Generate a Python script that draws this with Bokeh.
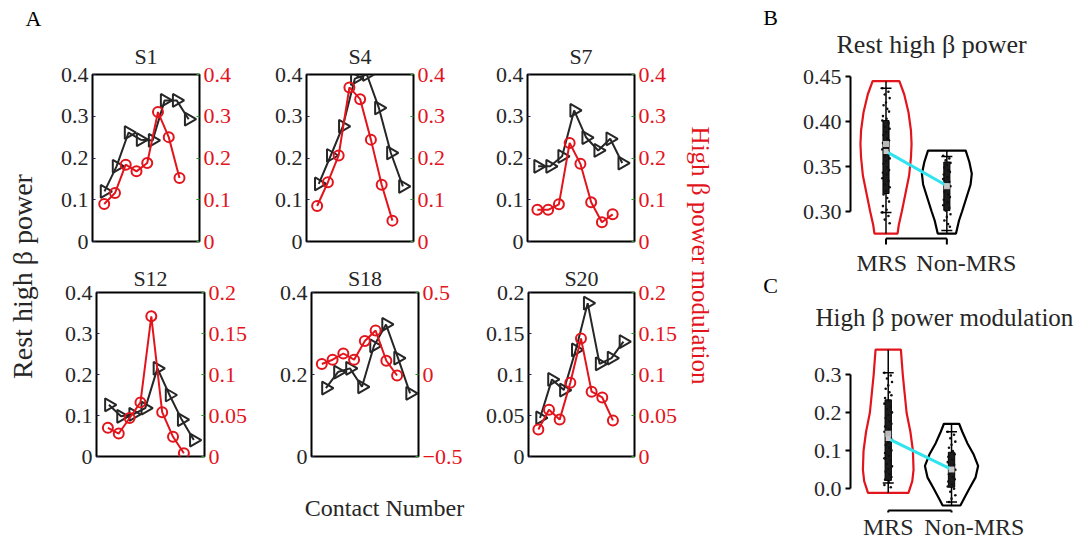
import numpy as np
from bokeh.plotting import figure
from bokeh.layouts import row, column
from bokeh.models import Range1d, LinearAxis, FixedTicker, CustomJSTickFormatter
from bokeh.embed import file_html
from bokeh.resources import INLINE
from bokeh.core.properties import value

FONT = "Liberation Serif"
RED = "#e2141c"
BLK = "#262626"
GREEN = "#1f9a1f"
CYAN = "#2fe3ef"

# ---------------- data: panel A ----------------
contacts = [1, 2, 3, 4, 5, 6, 7, 8]
subjects = ["S1", "S4", "S7", "S12", "S18", "S20"]

rest_S1 = [0.120, 0.180, 0.261, 0.244, 0.242, 0.338, 0.338, 0.293]
mod_S1 = [0.090, 0.116, 0.184, 0.168, 0.188, 0.310, 0.250, 0.152]
rest_S4 = [0.138, 0.206, 0.276, 0.390, 0.400, 0.320, 0.212, 0.132]
mod_S4 = [0.085, 0.142, 0.206, 0.369, 0.341, 0.244, 0.136, 0.050]
rest_S7 = [0.180, 0.180, 0.204, 0.314, 0.249, 0.218, 0.246, 0.188]
mod_S7 = [0.076, 0.076, 0.089, 0.236, 0.186, 0.094, 0.046, 0.065]
rest_S12 = [0.126, 0.098, 0.103, 0.118, 0.215, 0.150, 0.090, 0.040]
mod_S12 = [0.035, 0.028, 0.047, 0.066, 0.171, 0.054, 0.024, 0.004]
rest_S18 = [0.167, 0.206, 0.215, 0.170, 0.270, 0.322, 0.240, 0.154]
mod_S18 = [0.064, 0.090, 0.128, 0.090, 0.204, 0.268, 0.084, -0.006]
rest_S20 = [0.047, 0.094, 0.081, 0.130, 0.187, 0.113, 0.120, 0.140]
mod_S20 = [0.033, 0.057, 0.045, 0.090, 0.144, 0.079, 0.072, 0.044]

rest = {"S1": rest_S1, "S4": rest_S4, "S7": rest_S7, "S12": rest_S12, "S18": rest_S18, "S20": rest_S20}
mod = {"S1": mod_S1, "S4": mod_S4, "S7": mod_S7, "S12": mod_S12, "S18": mod_S18, "S20": mod_S20}

left_range = {"S1": (0, 0.4), "S4": (0, 0.4), "S7": (0, 0.4), "S12": (0, 0.4), "S18": (0, 0.4), "S20": (0, 0.2)}
right_range = {"S1": (0, 0.4), "S4": (0, 0.4), "S7": (0, 0.4), "S12": (0, 0.2), "S18": (-0.5, 0.5), "S20": (0, 0.2)}
ticks_04 = [0, 0.1, 0.2, 0.3, 0.4]
ticks_02 = [0, 0.05, 0.1, 0.15, 0.2]
left_ticks = {"S1": ticks_04, "S4": ticks_04, "S7": ticks_04, "S12": ticks_04, "S18": [0, 0.2, 0.4], "S20": ticks_02}
right_ticks = {"S1": ticks_04, "S4": ticks_04, "S7": ticks_04, "S12": ticks_02, "S18": [-0.5, 0, 0.5], "S20": ticks_02}

left_title = "Rest high β power"
right_title = "High β power modulation"
x_title = "Contact Number"
panel_letters = ["A", "B", "C"]

# ---------------- data: panels B, C ----------------
groups = ["MRS", "Non-MRS"]
titleB = "Rest high β power"
titleC = "High β power modulation"
ticksB = [0.30, 0.35, 0.40, 0.45]
ticksC = [0.0, 0.1, 0.2, 0.3]

# violin outlines: value levels and half widths (density)
B_mrs_lev = [0.2755, 0.285, 0.300, 0.320, 0.340, 0.360, 0.375, 0.390, 0.410, 0.430, 0.4448]
B_mrs_hw = [0.19, 0.21, 0.26, 0.32, 0.38, 0.41, 0.42, 0.41, 0.37, 0.30, 0.22]
B_non_lev = [0.2755, 0.290, 0.300, 0.315, 0.330, 0.342, 0.355, 0.3676]
B_non_hw = [0.15, 0.20, 0.25, 0.32, 0.39, 0.41, 0.37, 0.31]
C_mrs_lev = [-0.011, 0.020, 0.050, 0.100, 0.150, 0.200, 0.250, 0.300, 0.366]
C_mrs_hw = [0.32, 0.38, 0.40, 0.39, 0.35, 0.29, 0.26, 0.23, 0.20]
C_non_lev = [-0.044, -0.025, 0.000, 0.030, 0.060, 0.090, 0.120, 0.150, 0.171]
C_non_hw = [0.14, 0.20, 0.28, 0.38, 0.42, 0.35, 0.25, 0.17, 0.12]

# box (q1, q3), mean, median, whisker caps
B_mrs_box = (0.320, 0.401); B_non_box = (0.301, 0.355)
C_mrs_box = (0.022, 0.234); C_non_box = (0.004, 0.096)
B_means = [0.3668, 0.3286]
C_means = [0.132, 0.051]
B_medians = [0.375, 0.328]
C_medians = [0.145, 0.051]
B_caps = [[0.437, 0.299], [0.361, 0.279]]
C_caps = [[0.305, 0.015], [0.150, -0.035]]

B_mrs_pts = [0.437, 0.433, 0.430, 0.426, 0.421, 0.418, 0.414, 0.411, 0.406, 0.403, 0.401, 0.398,
             0.394, 0.392, 0.388, 0.385, 0.381, 0.379, 0.376, 0.372, 0.369, 0.366, 0.362, 0.359,
             0.356, 0.353, 0.349, 0.346, 0.343, 0.341, 0.337, 0.334, 0.330, 0.327, 0.323, 0.319,
             0.315, 0.311, 0.306, 0.302, 0.299, 0.295, 0.291, 0.287]
B_non_pts = [0.362, 0.359, 0.357, 0.354, 0.352, 0.349, 0.346, 0.344, 0.341, 0.338, 0.336, 0.333,
             0.331, 0.328, 0.325, 0.322, 0.319, 0.316, 0.313, 0.310, 0.307, 0.304, 0.301, 0.297,
             0.294, 0.290, 0.286, 0.283]
C_mrs_pts = [0.305, 0.298, 0.290, 0.281, 0.272, 0.263, 0.254, 0.246, 0.239, 0.231, 0.224, 0.216,
             0.209, 0.201, 0.194, 0.186, 0.178, 0.171, 0.164, 0.157, 0.150, 0.143, 0.136, 0.129,
             0.122, 0.115, 0.108, 0.101, 0.094, 0.087, 0.080, 0.073, 0.066, 0.059, 0.052, 0.045,
             0.038, 0.031, 0.024, 0.017, 0.010, 0.004]
C_non_pts = [0.150, 0.142, 0.133, 0.124, 0.116, 0.108, 0.099, 0.091, 0.084, 0.077, 0.070, 0.063,
             0.057, 0.050, 0.044, 0.038, 0.031, 0.025, 0.019, 0.012, 0.006, 0.000, -0.008, -0.017,
             -0.026, -0.035]

JIT = [-0.06, 0.04, -0.02, 0.06, 0.0, -0.04, 0.02, 0.05, -0.05, 0.01]
H = 539


def num_fmt():
    return CustomJSTickFormatter(code="const s = String(Math.round(tick*1000)/1000); return s.replace('-', '\u2212');")


def style_axis(ax, color, tick_color):
    ax.axis_line_color = None
    ax.major_tick_in = 3
    ax.major_tick_out = 0
    ax.major_tick_line_color = tick_color
    ax.minor_tick_line_color = None
    ax.major_label_text_font = FONT
    ax.major_label_text_font_size = "22px"
    ax.major_label_text_color = color
    ax.major_label_standoff = 4


geom = {
    "S1": dict(w=215, h=262, bl=42, br=66, bt=74, bb=21, xb=0.0, xr=-0.09, st=12),
    "S4": dict(w=215, h=262, bl=41, br=67, bt=74, bb=21, xb=-0.02, xr=0.01, st=12),
    "S7": dict(w=200, h=262, bl=47, br=46, bt=74, bb=21, xb=0.12, xr=0.08, st=12),
    "S12": dict(w=215, h=213, bl=46, br=61, bt=27, bb=19, xb=-0.02, xr=-0.05, st=3),
    "S18": dict(w=215, h=213, bl=46, br=62, bt=27, bb=19, xb=-0.2, xr=0.04, st=3),
    "S20": dict(w=200, h=213, bl=48, br=45, bt=27, bb=19, xb=0.03, xr=0.075, st=3),
}


def subplot(s):
    g = geom[s]
    p = figure(width=g["w"], height=g["h"], output_backend="svg", toolbar_location=None,
               x_range=Range1d(g["xb"], g["xb"] + 8.9), y_range=Range1d(*left_range[s]),
               x_axis_location=None, y_axis_location="left",
               min_border_left=g["bl"], min_border_right=g["br"],
               min_border_top=g["bt"], min_border_bottom=g["bb"])
    p.extra_y_ranges = {"mod": Range1d(*right_range[s])}
    p.extra_x_ranges = {"modx": Range1d(g["xr"], g["xr"] + 9.95)}
    p.xgrid.visible = False
    p.ygrid.visible = False
    p.outline_line_color = "black"
    p.outline_line_width = 2
    p.outline_line_alpha = 1
    p.background_fill_color = "white"
    p.border_fill_color = "white"
    p.title.text = s
    p.title.align = "center"
    p.title.text_font = FONT
    p.title.text_font_size = "22px"
    p.title.text_font_style = "normal"
    p.title.text_color = BLK
    p.title.standoff = g["st"]

    ya = p.yaxis[0]
    ya.ticker = FixedTicker(ticks=left_ticks[s])
    ya.formatter = num_fmt()
    style_axis(ya, BLK, "#202050")

    ra = LinearAxis(y_range_name="mod", ticker=FixedTicker(ticks=right_ticks[s]), formatter=num_fmt())
    style_axis(ra, RED, GREEN)
    p.add_layout(ra, "right")

    p.line(contacts, rest[s], line_color=BLK, line_width=2)
    p.scatter(contacts, rest[s], marker="triangle", angle=-np.pi / 2, size=13,
              fill_color=None, line_color=BLK, line_width=2)
    p.line(contacts, mod[s], x_range_name="modx", y_range_name="mod", line_color=RED, line_width=2)
    p.scatter(contacts, mod[s], x_range_name="modx", y_range_name="mod", marker="circle", size=10,
              fill_color=None, line_color=RED, line_width=2)
    return p


figs = {s: subplot(s) for s in subjects}


def text_fig(w, h, items):
    p = figure(width=w, height=h, output_backend="svg", toolbar_location=None, title=None,
               x_range=Range1d(0, w), y_range=Range1d(0, h),
               x_axis_location=None, y_axis_location=None,
               min_border_left=0, min_border_right=0, min_border_top=0, min_border_bottom=0)
    p.xgrid.visible = False
    p.ygrid.visible = False
    p.outline_line_color = None
    for (x, y, txt, angle, color, size) in items:
        p.text(x=[x], y=[y], text=[txt], angle=angle, text_font=value(FONT), text_font_size=size,
               text_color=color, text_align="center", text_baseline="middle")
    return p


left_fig = text_fig(50, H, [(22, H - 276, left_title, np.pi / 2, BLK, "28px"),
                            (33, H - 18, panel_letters[0], 0, "black", "22px")])
right_fig = text_fig(110, H, [(20, H - 255, right_title, -np.pi / 2, RED, "25px"),
                              (90, H - 17, panel_letters[1], 0, "black", "22px"),
                              (90, H - 285, panel_letters[2], 0, "black", "22px")])
contact_fig = text_fig(630, 64, [(334, 32, x_title, 0, BLK, "24px")])


def violin_fig(w, h, xr, yr, bl, bt, ticks, dec, lev, hw, boxes, means, medians, caps, pts,
               bracket_y, bracket_lo, label_x, label_y, title, t_size, t_offset, t_standoff):
    p = figure(width=w, height=h, output_backend="svg", toolbar_location=None,
               x_range=Range1d(*xr), y_range=Range1d(*yr),
               x_axis_location=None, y_axis_location="left",
               min_border_left=bl, min_border_right=10, min_border_top=bt, min_border_bottom=0)
    p.xgrid.visible = False
    p.ygrid.visible = False
    p.outline_line_color = None
    p.title.text = title
    p.title.align = "left"
    p.title.offset = t_offset
    p.title.standoff = t_standoff
    p.title.text_font = FONT
    p.title.text_font_size = t_size
    p.title.text_font_style = "normal"
    p.title.text_color = BLK

    ya = p.yaxis[0]
    ya.bounds = (ticks[0], ticks[-1])
    ya.ticker = FixedTicker(ticks=ticks)
    ya.formatter = CustomJSTickFormatter(code="return tick.toFixed(%d);" % dec)
    ya.axis_line_width = 2
    ya.axis_line_color = "black"
    ya.major_tick_in = 0
    ya.major_tick_out = 5
    ya.major_tick_line_width = 2
    ya.minor_tick_line_color = None
    ya.major_label_text_font = FONT
    ya.major_label_text_font_size = "22px"
    ya.major_label_text_color = BLK
    ya.major_label_standoff = 4

    colors = [RED, "black"]
    for i in range(2):
        c = i + 1
        xs = [c - v for v in hw[i]] + [c + v for v in reversed(hw[i])]
        ys = list(lev[i]) + list(reversed(lev[i]))
        p.patch(xs, ys, fill_color=None, line_color=colors[i], line_width=2.2)
        p.segment(x0=[c], y0=[lev[i][0]], x1=[c], y1=[lev[i][-1]], line_color="black", line_width=1.5)
        p.vbar(x=[c], bottom=[boxes[i][0]], top=[boxes[i][1]], width=0.1,
               fill_color="#1c1c1c", line_color="black", line_width=1)
        px = [c + JIT[k % len(JIT)] for k in range(len(pts[i]))]
        p.scatter(px, pts[i], marker="circle", size=2.6, fill_color="#111111", line_color=None)
        p.scatter([c, c], caps[i], marker="dash", size=11, line_color="black", line_width=1.5)
        p.scatter([c], [medians[i]], marker="square", size=6, fill_color="#b9b9b9", line_color=None)
    p.line([1, 2], means, line_color=CYAN, line_width=3)
    p.scatter([1, 2], means, marker="square", size=5, fill_color="#c8c8c8", line_color=None)
    # bracket under the two groups
    p.segment(x0=[1], y0=[bracket_y], x1=[2], y1=[bracket_y], line_color="black", line_width=2)
    p.segment(x0=[1, 2], y0=[bracket_y, bracket_y], x1=[1, 2], y1=[bracket_lo, bracket_lo],
              line_color="black", line_width=2)
    p.text(x=label_x, y=[label_y, label_y], text=groups, text_font=value(FONT),
           text_font_size="24px", text_color=BLK, text_align="center", text_baseline="middle")
    return p


# B: canvas y 0..278, frame top at 76 (0.45), 900 px per unit
pB = violin_fig(284, 278, (0.4165, 0.4165 + 217 / 61.7), (0.45 - 202 / 900, 0.45), 57, 76,
                ticksB, 2, [B_mrs_lev, B_non_lev], [B_mrs_hw, B_non_hw], [B_mrs_box, B_non_box],
                B_means, B_medians, B_caps, [B_mrs_pts, B_non_pts],
                0.27, 0.2633, [0.93, 2.32], 0.2433, titleB, "26px", -14, 36)

# C: canvas y 278..539, frame top at 345 (0.377), 380 px per unit
pC = violin_fig(284, 261, (0.404, 0.404 + 214 / 63.3), (0.377 - 194 / 380, 0.377), 60, 67,
                ticksC, 1, [C_mrs_lev, C_non_lev], [C_mrs_hw, C_non_hw], [C_mrs_box, C_non_box],
                C_means, C_medians, C_caps, [C_mrs_pts, C_non_pts],
                -0.0571, -0.0625, [1.0, 2.36], -0.1018, titleC, "25px", -35, 29)

colA = column(row(figs["S1"], figs["S4"], figs["S7"]),
              row(figs["S12"], figs["S18"], figs["S20"]),
              contact_fig)
layout = row(left_fig, colA, right_fig, column(pB, pC))

open("out.html", "w").write(file_html(layout, INLINE))
